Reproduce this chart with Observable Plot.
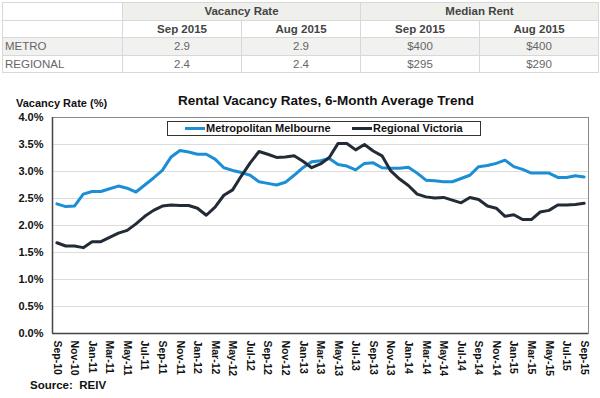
<!DOCTYPE html>
<html>
<head>
<meta charset="utf-8">
<script src="https://cdn.jsdelivr.net/npm/d3@7"></script>
<script src="https://cdn.jsdelivr.net/npm/@observablehq/plot@0.6"></script>
<style>
  body { margin:0; width:600px; height:398px; position:relative; background:#fff; font-family:"Liberation Sans", Arial, sans-serif; overflow:hidden; }
  table.summary { position:absolute; left:2px; top:2px; border-collapse:collapse; table-layout:fixed; width:596px; font-size:11.5px; }
  table.summary td, table.summary th { border:1px solid #d8d8d8; height:16.5px; padding:0; text-align:center; color:#666; font-weight:normal; }
  table.summary th { color:#444; font-weight:bold; }
  table.summary tr.h1 th.g { background:#efefec; }
  table.summary tr.metro td { background:#f1f1ef; }
  table.summary td.lab { text-align:left; padding-left:2px; }
  .title { position:absolute; left:0; width:652px; top:93px; text-align:center; font-weight:bold; font-size:13.5px; color:#111; }
  .ylab { position:absolute; left:16px; top:97px; font-weight:bold; font-size:11px; color:#111; }
  .legend { position:absolute; left:167px; top:121px; width:312px; height:13px; border:1px solid #333; background:#fff; font-weight:bold; font-size:11px; color:#111; }
  .legend .item { position:absolute; top:0; line-height:13px; white-space:nowrap; }
  .legend .sw { display:inline-block; width:20px; height:3px; vertical-align:middle; margin-right:1px; position:relative; top:-1px; }
  .source { position:absolute; left:30px; top:379px; font-weight:bold; font-size:11.5px; color:#111; }
  #chart { position:absolute; left:0; top:85px; }
  #chart svg text { font-weight:bold; }
</style>
</head>
<body>
<table class="summary" id="tbl"></table>
<div id="chart"></div>
<div class="title">Rental Vacancy Rates, 6-Month Average Trend</div>
<div class="ylab">Vacancy Rate (%)</div>
<div class="legend" id="legend"></div>
<div class="source">Source:&nbsp; REIV</div>
<script>
// ---- table data ----
const tableGroups = ["Vacancy Rate", "Median Rent"];
const tablePeriods = ["Sep 2015", "Aug 2015"];
const tableRows = ["METRO", "REGIONAL"];
const vacancyTable = [["2.9", "2.9"], ["2.4", "2.4"]];
const rentTable = [["$400", "$400"], ["$295", "$290"]];

// ---- chart data ----
const months = ["Sep-10","Oct-10","Nov-10","Dec-10",
  "Jan-11","Feb-11","Mar-11","Apr-11","May-11","Jun-11","Jul-11","Aug-11","Sep-11","Oct-11","Nov-11","Dec-11",
  "Jan-12","Feb-12","Mar-12","Apr-12","May-12","Jun-12","Jul-12","Aug-12","Sep-12","Oct-12","Nov-12","Dec-12",
  "Jan-13","Feb-13","Mar-13","Apr-13","May-13","Jun-13","Jul-13","Aug-13","Sep-13","Oct-13","Nov-13","Dec-13",
  "Jan-14","Feb-14","Mar-14","Apr-14","May-14","Jun-14","Jul-14","Aug-14","Sep-14","Oct-14","Nov-14","Dec-14",
  "Jan-15","Feb-15","Mar-15","Apr-15","May-15","Jun-15","Jul-15","Aug-15","Sep-15"];
const seriesNames = ["Metropolitan Melbourne", "Regional Victoria"];
const seriesColors = ["#1b8ed6", "#232b36"];
const metro = [2.40,2.35,2.36,2.58,2.63,2.63,2.68,2.73,2.69,2.62,2.75,2.88,3.02,3.27,3.39,3.36,
  3.32,3.32,3.23,3.07,3.02,2.98,2.93,2.81,2.78,2.75,2.80,2.93,
  3.07,3.18,3.20,3.24,3.13,3.10,3.03,3.15,3.16,3.07,3.06,3.06,
  3.08,2.97,2.84,2.83,2.81,2.81,2.87,2.93,3.09,3.11,3.15,3.21,
  3.09,3.04,2.97,2.97,2.97,2.89,2.89,2.92,2.90];
const regional = [1.68,1.62,1.62,1.59,1.70,1.70,1.78,1.86,1.91,2.03,2.17,2.28,2.36,2.38,2.37,2.37,
  2.32,2.19,2.34,2.56,2.66,2.92,3.16,3.37,3.32,3.26,3.27,3.29,
  3.19,3.07,3.14,3.26,3.52,3.52,3.40,3.50,3.38,3.29,3.01,2.86,
  2.74,2.58,2.53,2.51,2.52,2.47,2.42,2.52,2.48,2.36,2.32,2.17,
  2.20,2.11,2.11,2.25,2.28,2.38,2.38,2.39,2.41];
const yTicks = [0,0.5,1,1.5,2,2.5,3,3.5,4];

// ---- build table ----
const tbl = document.getElementById("tbl");
let html = '<colgroup><col style="width:120px"><col style="width:119px"><col style="width:119px"><col style="width:119px"><col style="width:119px"></colgroup>';
html += '<tr class="h1"><th></th>' + tableGroups.map(g => `<th class="g" colspan="2">${g}</th>`).join("") + '</tr>';
html += '<tr class="h2"><th></th>' + tableGroups.map(() => tablePeriods.map(p => `<th>${p}</th>`).join("")).join("") + '</tr>';
tableRows.forEach((r, i) => {
  html += `<tr class="${i === 0 ? "metro" : "regional"}"><td class="lab">${r}</td>` +
    vacancyTable[i].map(v => `<td>${v}</td>`).join("") +
    rentTable[i].map(v => `<td>${v}</td>`).join("") + '</tr>';
});
tbl.innerHTML = html;

// ---- legend ----
const legend = document.getElementById("legend");
const legendX = [17, 184];
legend.innerHTML = seriesNames.map((n, i) =>
  `<span class="item" style="left:${legendX[i]}px"><span class="sw" style="background:${seriesColors[i]}"></span>${n}</span>`).join("");

// ---- chart ----
const data = [];
months.forEach((m, i) => {
  data.push({i, month: m, series: seriesNames[0], value: metro[i]});
  data.push({i, month: m, series: seriesNames[1], value: regional[i]});
});
const evenIdx = months.map((m, i) => i).filter(i => i % 2 === 0);

const chart = Plot.plot({
  width: 600,
  height: 313,
  marginTop: 32,
  marginBottom: 65,
  marginLeft: 52,
  marginRight: 12,
  style: { fontFamily: "Liberation Sans, Arial, sans-serif", color: "#111", background: "transparent" },
  x: { domain: [-0.5, months.length - 0.5] },
  y: { domain: [0, 4] },
  color: { domain: seriesNames, range: seriesColors },
  marks: [
    Plot.ruleY(yTicks.slice(1, -1), { stroke: "#dcdcdc", strokeWidth: 1 }),
    Plot.frame({ stroke: "#8a8a8a" }),
    Plot.ruleY([0], { stroke: "#444", strokeWidth: 1.5 }),
    Plot.ruleX([-0.5], { stroke: "#444", strokeWidth: 1.5 }),
    Plot.line(data, { x: "i", y: "value", z: "series", stroke: "series", strokeWidth: 3, strokeLinejoin: "round" }),
    Plot.axisY({ ticks: yTicks, tickFormat: d => d.toFixed(1) + "%", tickSize: 0, tickPadding: 9, fontSize: 11, label: null }),
    Plot.axisX({ ticks: evenIdx, tickFormat: i => months[i], tickRotate: 90, tickSize: 0, tickPadding: 7, fontSize: 10.5, label: null })
  ]
});
document.getElementById("chart").appendChild(chart);
</script>
</body>
</html>
